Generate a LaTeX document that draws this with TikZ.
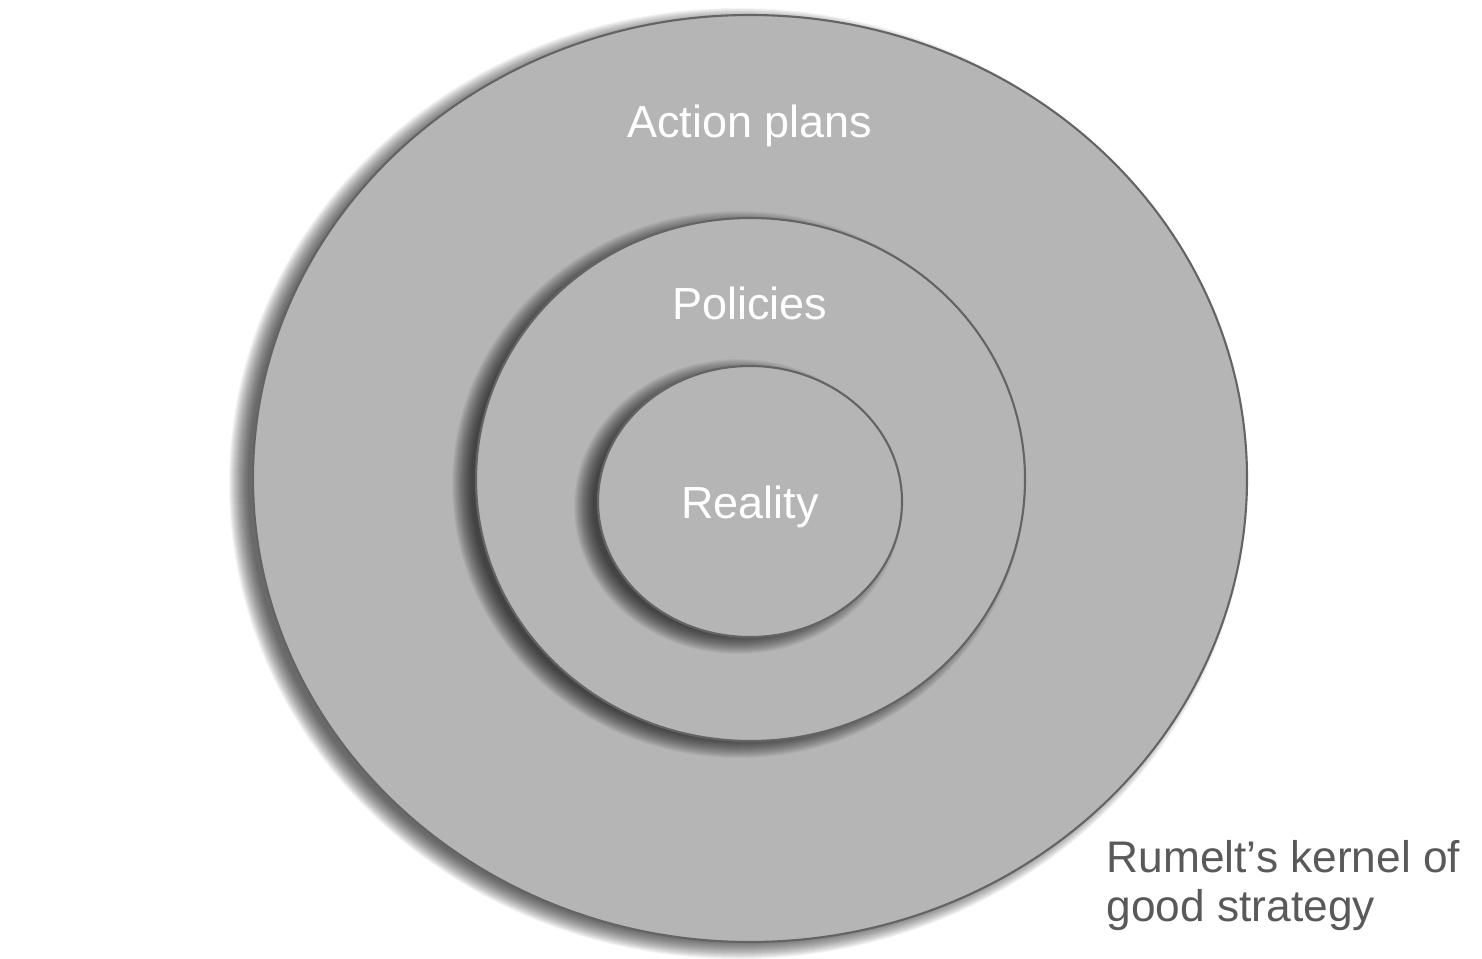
\documentclass[tikz,border=0pt]{standalone}
\usepackage{fontspec}
\setmainfont{Liberation Sans}
\usepackage{xcolor}
\usepackage{tikz}
\usetikzlibrary{shapes.geometric,positioning}
\definecolor{kernelfill}{RGB}{181,181,181}
\definecolor{kernelline}{RGB}{100,100,100}
\definecolor{captiongray}{RGB}{89,89,89}
% soft shadow under a ring: centre x, centre y, x radius, y radius
\newcommand{\ringshadow}[4]{%
  \foreach \d in {0.12,0.11,...,-0.07}
    \fill[black, opacity=0.045] ({#1-0.12},{#2-0.05}) ellipse [x radius=#3+\d, y radius=#4+\d];
}

\begin{document}
\begin{tikzpicture}[
    ring/.style={ellipse, draw=kernelline, line width=0.6pt, fill=kernelfill, inner sep=0pt},
    ringlabel/.style={font=\fontsize{12.8}{15}\selectfont, text=white, anchor=base},
    caption/.style={font=\fontsize{12.6}{13.9}\selectfont, text=captiongray, align=left, anchor=north west, inner sep=0pt}
]
\useasboundingbox (0,0) rectangle (14.82,9.58);
% outer ring
\ringshadow{7.50}{4.795}{4.97}{4.635}
\node[ring, minimum width=9.94cm, minimum height=9.27cm] (actionring) at (7.50,4.795) {};
\node[ringlabel] (actionlabel) at (7.50,8.20) {Action plans};
% middle ring
\ringshadow{7.505}{4.785}{2.745}{2.615}
\node[ring, minimum width=5.49cm, minimum height=5.23cm] (policyring) at (7.505,4.785) {};
\node[ringlabel] (policylabel) at (7.50,6.38) {Policies};
% inner ring
\ringshadow{7.50}{4.565}{1.52}{1.355}
\node[ring, minimum width=3.04cm, minimum height=2.71cm] (realityring) at (7.50,4.565) {};
\node[ringlabel] (realitylabel) at (7.50,4.40) {Reality};
% caption
\node[caption] (kernelcaption) at (11.06,1.18) {Rumelt’s kernel of\\good strategy};
\end{tikzpicture}
\end{document}
